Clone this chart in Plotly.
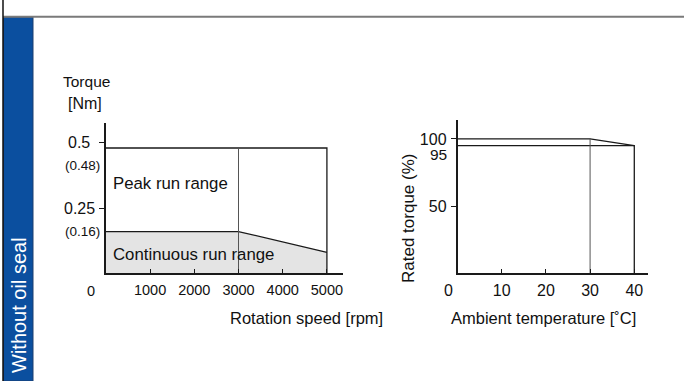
import plotly.graph_objects as go

# Left: speed vs torque
speed = [0, 3000, 5000]
peak_torque = [0.48, 0.48, 0.48]
cont_torque = [0.16, 0.16, 0.08]
speed_ticks = [1000, 2000, 3000, 4000, 5000]
torque_ticks = [0.5, 0.25]
torque_tick_text = ['0.5', '0.25']
torque_marks = [0.48, 0.16]
torque_mark_text = ['(0.48)', '(0.16)']

# Right: ambient temperature vs rated torque
temp = [0, 30, 40]
rated = [100, 100, 95]
temp_ticks = [10, 20, 30, 40]
rated_ticks = [100, 50]

W, H = 684, 381
FONT = 'Liberation Sans, Arial, Helvetica, sans-serif'
INK = '#1a1a1a'


def px(x):
    return x / W


def py(y):
    return 1 - y / H


fig = go.Figure()

# continuous run range (grey fill)
fig.add_trace(go.Scatter(x=speed, y=cont_torque, mode='lines', fill='tozeroy',
                         fillcolor='#e4e4e4', line=dict(color=INK, width=1.3),
                         xaxis='x', yaxis='y', hoverinfo='skip'))
# peak run range outline
fig.add_trace(go.Scatter(x=[speed[0], speed[-1], speed[-1]],
                         y=[peak_torque[0], peak_torque[-1], 0],
                         mode='lines', line=dict(color=INK, width=1.3),
                         xaxis='x', yaxis='y', hoverinfo='skip'))
fig.add_trace(go.Scatter(x=[speed[1], speed[1]], y=[peak_torque[1], 0],
                         mode='lines', line=dict(color='#555', width=1),
                         xaxis='x', yaxis='y', hoverinfo='skip'))

# rated torque curve
fig.add_trace(go.Scatter(x=temp, y=rated, mode='lines',
                         line=dict(color=INK, width=1.3),
                         xaxis='x2', yaxis='y2', hoverinfo='skip'))
fig.add_trace(go.Scatter(x=[temp[0], temp[-1], temp[-1]],
                         y=[rated[-1], rated[-1], 0], mode='lines',
                         line=dict(color=INK, width=1.3),
                         xaxis='x2', yaxis='y2', hoverinfo='skip'))
fig.add_trace(go.Scatter(x=[temp[1], temp[1]], y=[rated[1], 0], mode='lines',
                         line=dict(color='#555', width=1),
                         xaxis='x2', yaxis='y2', hoverinfo='skip'))

axis_common = dict(showline=True, linecolor=INK, linewidth=1.5, showgrid=False,
                   zeroline=False, ticklen=5, tickwidth=1, tickcolor=INK,
                   fixedrange=True)

fig.update_layout(
    width=W, height=H, margin=dict(l=0, r=0, t=0, b=0),
    paper_bgcolor='white', plot_bgcolor='white', showlegend=False,
    font=dict(family=FONT, color='#111', size=16),
    xaxis=dict(axis_common, domain=[px(105.9), px(343)], range=[0, 5364],
               tickvals=speed_ticks, ticks='inside', anchor='y',
               tickfont=dict(size=14.5), ticklabelstandoff=3),
    yaxis=dict(axis_common, domain=[py(273.3), py(122.7)], range=[0, 0.577],
               tickvals=torque_ticks, ticks='outside', showticklabels=False,
               anchor='x'),
    xaxis2=dict(axis_common, domain=[px(457.5), px(648.3)], range=[0, 43.17],
                tickvals=temp_ticks, ticks='inside', anchor='y2',
                tickfont=dict(size=16), ticklabelstandoff=2),
    yaxis2=dict(axis_common, domain=[py(273.3), py(120)], range=[0, 114.1],
                tickvals=rated_ticks, ticks='outside', anchor='x2',
                tickfont=dict(size=16), ticklabelstandoff=1),
)


def label(x, y, text, size=16, **kw):
    d = dict(x=x, y=y, xref='paper', yref='paper', text=text, showarrow=False,
             font=dict(size=size), xanchor='center', yanchor='middle')
    d.update(kw)
    return d


ann = []
# left y labels
for v, t in zip(torque_ticks, torque_tick_text):
    ann.append(label(px(79), v, t, 16, yref='y'))
for v, t, dy in zip(torque_marks, torque_mark_text, [-17, 0]):
    ann.append(label(px(82.5), v, t, 13.5, yref='y', yshift=dy))
ann.append(label(px(448.5), 95, '95', 15.5, yref='y2', xanchor='right', yshift=-9))
# "0" corner labels
ann.append(label(px(91), py(290.5), '0', 14.5))
ann.append(label(px(448.5), py(290.5), '0', 16))
# titles
ann.append(label(px(86), py(81), 'Torque', 15.5))
ann.append(label(px(85), py(103), '[Nm]', 16))
ann.append(label(px(306.5), py(318), 'Rotation speed [rpm]', 16.5))
ann.append(label(px(543.5), py(318), 'Ambient temperature [˚C]', 16.5))
ann.append(label(px(408), py(219), 'Rated torque (%)', 17, textangle=-90))
ann.append(label(px(111), py(183.3), 'Peak run range', 16.8, xanchor='left'))
ann.append(label(px(111), py(254), 'Continuous run range', 16.8, xanchor='left'))
# side tab text
ann.append(dict(label(px(19), py(305), 'Without oil seal', 20, textangle=-90),
                font=dict(size=20, color='white')))
fig.update_layout(annotations=ann)

# page frame: blue tab, top rule, left edge
fig.update_layout(shapes=[
    dict(type='rect', xref='paper', yref='paper', x0=px(3.5), x1=px(33),
         y0=0, y1=py(17), fillcolor='#0b4f9f', line=dict(color='#1c3f6e', width=1),
         layer='below'),
    dict(type='line', xref='paper', yref='paper', x0=px(3), x1=1,
         y0=py(16.7), y1=py(16.7), line=dict(color='#7a7a7a', width=2)),
    dict(type='line', xref='paper', yref='paper', x0=px(3), x1=px(3),
         y0=0, y1=1, line=dict(color='#111', width=1.5)),
])

fig.write_html('out.html', config={'displayModeBar': False},
               post_script="document.body.style.margin='0';")
